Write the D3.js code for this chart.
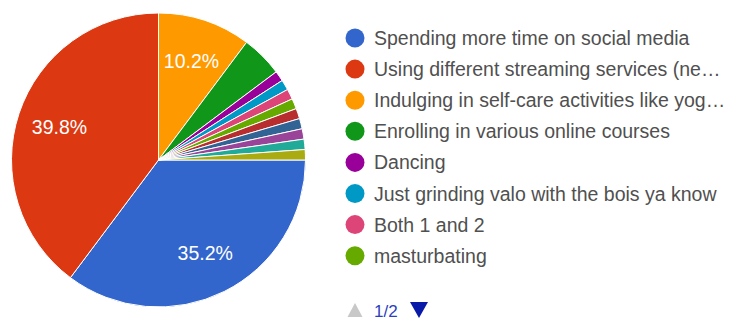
<!DOCTYPE html>
<html>
<head>
<meta charset="utf-8">
<script src="https://cdn.jsdelivr.net/npm/d3@7"></script>
<style>
  html, body { margin: 0; padding: 0; background: #fff; }
  svg { display: block; }
  text { font-family: Arial, "Liberation Sans", sans-serif; }
</style>
</head>
<body>
<svg id="chart" width="730" height="322"></svg>
<script>
// Answer options (first legend page shows eight of them)
const categories = [
  "Spending more time on social media",
  "Using different streaming services (ne\u2026",
  "Indulging in self-care activities like yog\u2026",
  "Enrolling in various online courses",
  "Dancing",
  "Just grinding valo with the bois ya know",
  "Both 1 and 2",
  "masturbating",
  "Option 9",
  "Option 10",
  "Option 11",
  "Option 12",
  "Option 13"
];
// Number of responses per option
const counts = [31, 35, 9, 4, 1, 1, 1, 1, 1, 1, 1, 1, 1];
const colors = [
  "#3366cc", "#dc3912", "#ff9900", "#109618", "#990099", "#0099c6",
  "#dd4477", "#66aa00", "#b82e2e", "#316395", "#994499", "#22aa99", "#aaaa11"
];
const legendPage = { current: 1, total: 2, perPage: 8 };

const svg = d3.select("#chart");
const cx = 158.5, cy = 160, radius = 147;
const total = d3.sum(counts);

const data = categories.map((name, i) => ({ name, value: counts[i], color: colors[i] }));

const pie = d3.pie()
  .sort(null)
  .value(d => d.value)
  .startAngle(Math.PI / 2)
  .endAngle(Math.PI / 2 + 2 * Math.PI);

const arc = d3.arc().innerRadius(0).outerRadius(radius);
const labelArc = d3.arc().innerRadius(radius * 0.71).outerRadius(radius * 0.71);

const g = svg.append("g").attr("transform", `translate(${cx},${cy})`);
const arcs = pie(data);

g.selectAll("path.slice")
  .data(arcs)
  .join("path")
  .attr("class", "slice")
  .attr("d", arc)
  .attr("fill", d => d.data.color)
  .attr("stroke", "#fff")
  .attr("stroke-width", 1);

const fmt = v => (v * 100).toFixed(1) + "%";

g.selectAll("text.pct")
  .data(arcs.filter(d => d.data.value / total >= 0.05))
  .join("text")
  .attr("class", "pct")
  .attr("transform", d => `translate(${labelArc.centroid(d)})`)
  .attr("text-anchor", "middle")
  .attr("dy", "0.36em")
  .attr("font-size", 19.5)
  .attr("fill", "#fff")
  .text(d => fmt(d.data.value / total));

// Legend
const legendX = 355, legendY = 38, rowH = 31.1;
const shown = data.slice(0, legendPage.perPage);
const leg = svg.append("g");
const rows = leg.selectAll("g.row")
  .data(shown)
  .join("g")
  .attr("class", "row")
  .attr("transform", (d, i) => `translate(${legendX},${legendY + i * rowH})`);

rows.append("circle")
  .attr("r", 9.5)
  .attr("fill", d => d.color);

rows.append("text")
  .attr("x", 19)
  .attr("y", 7)
  .attr("font-size", 19.5)
  .attr("fill", "#505050")
  .text(d => d.name);

// Pager
const pager = svg.append("g").attr("transform", "translate(355,310)");
pager.append("path")
  .attr("d", "M-7.5,7 L0,-7 L7.5,7 Z")
  .attr("fill", "#c8c8c8");
pager.append("text")
  .attr("x", 19)
  .attr("y", 6.5)
  .attr("font-size", 17)
  .attr("fill", "#2a3fc0")
  .text(`${legendPage.current}/${legendPage.total}`);
pager.append("path")
  .attr("d", "M55,-8 L73,-8 L64,8 Z")
  .attr("fill", "#0a1aa8");
</script>
</body>
</html>
